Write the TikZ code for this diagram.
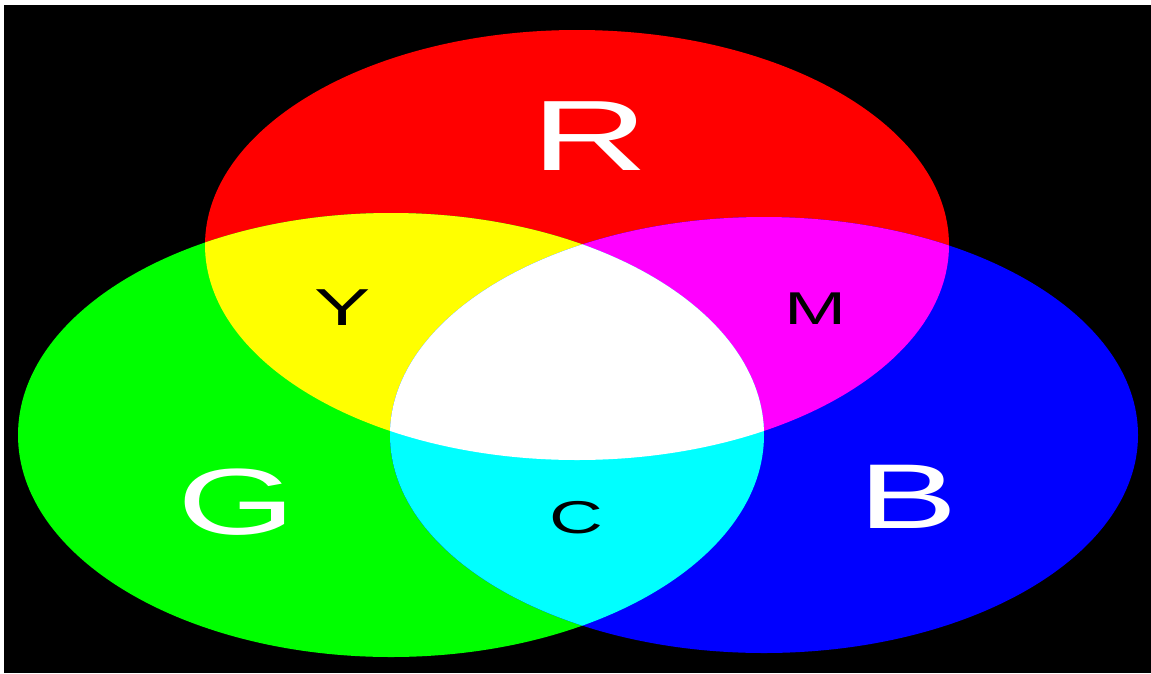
\documentclass[tikz,border=0pt]{standalone}
\usepackage{fontspec}
\setmainfont{Liberation Sans}
\usepackage{xcolor}
\usepackage{tikz}
\definecolor{LuzRoja}{RGB}{255,0,0}
\definecolor{LuzVerde}{RGB}{0,255,0}
\definecolor{LuzAzul}{RGB}{0,0,255}
\definecolor{LuzAmarilla}{RGB}{255,255,0}
\definecolor{LuzMagenta}{RGB}{255,0,255}
\definecolor{LuzCian}{RGB}{0,255,255}

\begin{document}
\begin{tikzpicture}[x=1pt,y=-1pt,
  primaria/.style={text=white,inner sep=0pt,xscale=1.62},
  secundaria/.style={text=black,inner sep=0pt,xscale=1.62}]
  \useasboundingbox (0,0) rectangle (1151,673);
  \fill[white] (0,0) rectangle (1151,673);
  \fill[black] (4,5) rectangle (1151,673);

  % Luces primarias
  \fill[LuzRoja] (577,245) ellipse [x radius=372,y radius=215];
  \fill[LuzVerde] (391,435) ellipse [x radius=373,y radius=222];
  \fill[LuzAzul] (764,435) ellipse [x radius=374,y radius=218];

  % Rojo + verde
  \begin{scope}
    \clip (577,245) ellipse [x radius=372,y radius=215];
    \fill[LuzAmarilla] (391,435) ellipse [x radius=373,y radius=222];
  \end{scope}

  % Rojo + azul
  \begin{scope}
    \clip (577,245) ellipse [x radius=372,y radius=215];
    \fill[LuzMagenta] (764,435) ellipse [x radius=374,y radius=218];
  \end{scope}

  % Verde + azul
  \begin{scope}
    \clip (391,435) ellipse [x radius=373,y radius=222];
    \fill[LuzCian] (764,435) ellipse [x radius=374,y radius=218];
  \end{scope}

  % Las tres
  \begin{scope}
    \clip (577,245) ellipse [x radius=372,y radius=215];
    \clip (391,435) ellipse [x radius=373,y radius=222];
    \fill[white] (764,435) ellipse [x radius=374,y radius=218];
  \end{scope}

  % Letras
  \node[primaria,font=\fontsize{100}{100}\selectfont] (R) at (590,136) {R};
  \node[primaria,font=\fontsize{94}{94}\selectfont] (G) at (237,502) {G};
  \node[primaria,font=\fontsize{92}{92}\selectfont] (B) at (908,497) {B};
  \node[secundaria,font=\fontsize{52}{52}\selectfont] (Y) at (343,308) {Y};
  \node[secundaria,font=\fontsize{46}{46}\selectfont] (M) at (816,309) {M};
  \node[secundaria,font=\fontsize{46}{46}\selectfont] (C) at (576,518) {C};
\end{tikzpicture}
\end{document}
